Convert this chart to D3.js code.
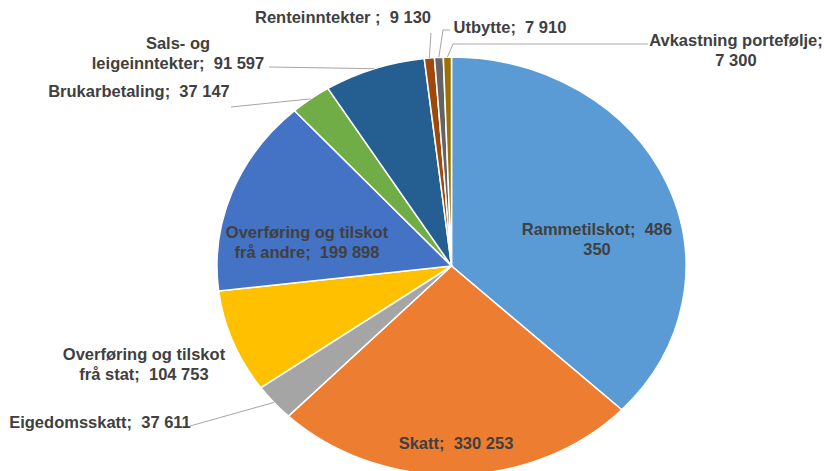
<!DOCTYPE html>
<html>
<head>
<meta charset="utf-8">
<script src="https://cdn.jsdelivr.net/npm/d3@7"></script>
<style>
  body { margin: 0; background: #fff; }
  svg text { font-family: "Liberation Sans", Arial, sans-serif; font-weight: bold; font-size: 16.5px; fill: #404040; white-space: pre; }
</style>
</head>
<body>
<div id="chart"></div>
<script>
// data (order = clockwise from 12 o'clock)
var categories = ['Rammetilskot', 'Skatt', 'Eigedomsskatt', 'Overføring og tilskot frå stat',
  'Overføring og tilskot frå andre', 'Brukarbetaling', 'Sals- og leigeinntekter',
  'Renteinntekter ', 'Utbytte', 'Avkastning portefølje'];
var values = [486350, 330253, 37611, 104753, 199898, 37147, 91597, 9130, 7910, 7300];
var colors = ['#5B9BD5', '#ED7D31', '#A5A5A5', '#FFC000', '#4472C4', '#70AD47',
  '#255E91', '#9E480E', '#636363', '#997300'];

// label placement (Excel style callouts): centre x, first baseline, words on first line, leader bends
var labelLayout = [
  {x: 597, y: 235, split: 3},
  {x: 456, y: 449},
  {x: 100, y: 428, line: [[190, 426]]},
  {x: 144, y: 360, split: 3},
  {x: 307, y: 238, split: 3},
  {x: 139, y: 97, line: [[231, 107]]},
  {x: 178, y: 49, split: 2, line: [[269, 67]]},
  {x: 343, y: 23, line: [[431, 33]]},
  {x: 510, y: 33, line: [[443, 30], [450, 30]]},
  {x: 736, y: 46, split: 2, line: [[453, 44], [648, 44]]}
];

var width = 824, height = 471;
var cx = 451.5, cy = 266, rx = 234.5, ry = 209;
var lineHeight = 20;

var svg = d3.select('#chart').append('svg')
    .attr('width', width)
    .attr('height', height);

var data = categories.map(function(c, i) { return {name: c, value: values[i], i: i}; });

var pie = d3.pie()
    .value(function(d) { return d.value; })
    .sort(null);

var arcs = pie(data);

var arc = d3.arc().innerRadius(0).outerRadius(rx);
var edge = d3.arc().innerRadius(rx).outerRadius(rx);

// the picture is squashed vertically, so draw a circle and scale it to an ellipse
var g = svg.append('g')
    .attr('transform', 'translate(' + cx + ',' + cy + ') scale(1,' + (ry / rx) + ')');

g.selectAll('.slice')
    .data(arcs)
  .enter().append('path')
    .attr('class', 'slice')
    .attr('d', arc)
    .attr('fill', function(d) { return colors[d.data.i]; })
    .attr('stroke', '#fff')
    .attr('stroke-width', 1.5)
    .attr('vector-effect', 'non-scaling-stroke');

// leader lines
var leaders = arcs.filter(function(d) { return labelLayout[d.data.i].line; });
svg.selectAll('.leader')
    .data(leaders)
  .enter().append('polyline')
    .attr('class', 'leader')
    .attr('fill', 'none')
    .attr('stroke', '#A6A6A6')
    .attr('stroke-width', 1)
    .attr('points', function(d) {
      var p = edge.centroid(d);
      var pts = [[cx + p[0], cy + p[1] * ry / rx]].concat(labelLayout[d.data.i].line);
      return pts.map(function(q) { return q.join(','); }).join(' ');
    });

var fmt = function(v) { return d3.format(',')(v).replace(/,/g, ' '); };

var labels = svg.selectAll('.label')
    .data(arcs)
  .enter().append('text')
    .attr('class', 'label')
    .attr('text-anchor', 'middle')
    .attr('x', function(d) { return labelLayout[d.data.i].x; })
    .attr('y', function(d) { return labelLayout[d.data.i].y; });

labels.each(function(d) {
  var lay = labelLayout[d.data.i];
  var full = d.data.name + ';  ' + fmt(d.data.value);
  var words = full.split(' ');
  var lines = lay.split ? [words.slice(0, lay.split).join(' '), words.slice(lay.split).join(' ').trim()] : [full];
  var t = d3.select(this);
  lines.forEach(function(l, k) {
    t.append('tspan')
      .attr('x', lay.x)
      .attr('dy', k === 0 ? 0 : lineHeight)
      .text(l);
  });
});
</script>
</body>
</html>
